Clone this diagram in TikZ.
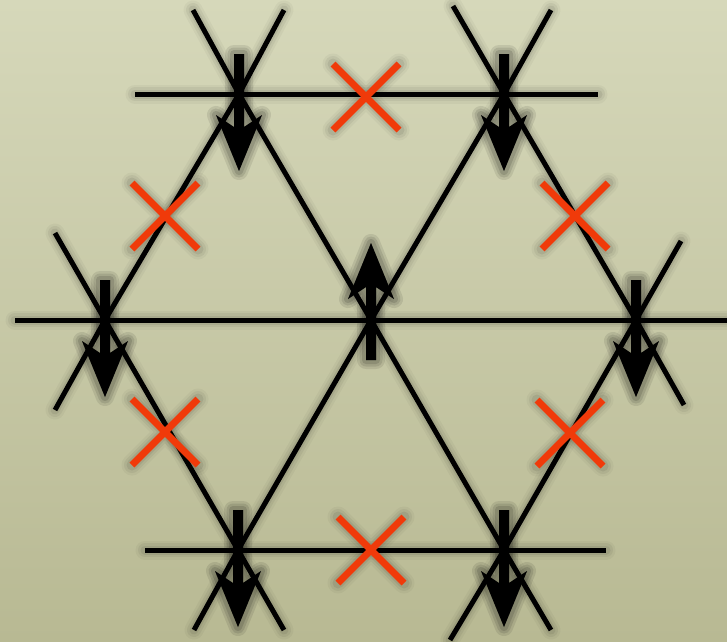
\documentclass[tikz,border=0pt]{standalone}
\usetikzlibrary{calc}
\definecolor{bgtop}{RGB}{214,216,186}
\definecolor{bgbot}{RGB}{184,185,147}
\definecolor{xred}{RGB}{240,58,10}
\tikzset{
  latline/.style={line width=5pt, draw=black},
  xline/.style={line width=7pt, draw=xred},
  spinfill/.style={fill=black},
  spindown/.pic={
    \path[pic actions] (-5,-40) -- (5,-40) -- (5,33) -- (23,21) -- (0,77)
      -- (-23,21) -- (-5,33) -- cycle;
  },
}
\newcommand\latticepaths[3]{%
  \draw[#1] (l1a) -- (TL) -- (C) -- (BR) -- (l1b);
  \draw[#1] (l2a) -- (TL) -- (L) -- (l2b);
  \draw[#1] (l3a) -- (TR) -- (R) -- (l3b);
  \draw[#1] (l4a) -- (TR) -- (C) -- (BL) -- (l4b);
  \draw[#1] (l5a) -- (L) -- (BL) -- (l5b);
  \draw[#1] (l6a) -- (R) -- (BR) -- (l6b);
  \draw[#1] (h1a) -- (TL) -- (TR) -- (h1b);
  \draw[#1] (h2a) -- (L) -- (C) -- (R) -- (h2b);
  \draw[#1] (h3a) -- (BL) -- (BR) -- (h3b);
  \foreach \c in {X1,X2,X3,X4,X5,X6}
    \draw[#2] ($(\c)+(-33,-33)$) -- ($(\c)+(33,33)$)
              ($(\c)+(-33,33)$) -- ($(\c)+(33,-33)$);
  \foreach \v in {TL,TR,L,R,BL,BR} \pic[#3] at (\v) {spindown};
  \pic[#3,rotate=180] at (C) {spindown};
}
\begin{document}
\begin{tikzpicture}[x=1pt,y=-1pt]
  \clip (0,0) rectangle (727,641);
  \shade[top color=bgtop, bottom color=bgbot] (0,0) rectangle (727,641);
  % lattice sites
  \coordinate (TL) at (239,94);
  \coordinate (TR) at (504,94);
  \coordinate (L)  at (105,320);
  \coordinate (C)  at (371,320);
  \coordinate (R)  at (636,320);
  \coordinate (BL) at (238,550);
  \coordinate (BR) at (504,550);
  % line ends
  \coordinate (l1a) at (193,10);  \coordinate (l1b) at (551,630);
  \coordinate (l2a) at (284,10);  \coordinate (l2b) at (55,410);
  \coordinate (l3a) at (453,6);   \coordinate (l3b) at (684,405);
  \coordinate (l4a) at (551,10);  \coordinate (l4b) at (194,630);
  \coordinate (l5a) at (55,233);  \coordinate (l5b) at (284,630);
  \coordinate (l6a) at (681,241); \coordinate (l6b) at (450,640);
  \coordinate (h1a) at (135,94);  \coordinate (h1b) at (598,94);
  \coordinate (h2a) at (15,320);  \coordinate (h2b) at (740,320);
  \coordinate (h3a) at (145,550); \coordinate (h3b) at (606,550);
  % crosses
  \coordinate (X1) at (366,97);
  \coordinate (X2) at (165,216);
  \coordinate (X3) at (575,216);
  \coordinate (X4) at (165,432);
  \coordinate (X5) at (570,433);
  \coordinate (X6) at (371,550);
  % soft shadow
  \begin{scope}[shift={(5,6)}, line cap=round, line join=round]
    \foreach \w/\o in {14/0.035, 9/0.05, 4/0.07} {
      \latticepaths{draw=black, line width=5pt+\w pt, opacity=\o}
                   {draw=black, line width=7pt+\w pt, opacity=\o}
                   {fill=black, draw=black, line width=\w pt+4pt, opacity=\o+0.05}
    }
  \end{scope}
  % main drawing
  \latticepaths{latline}{xline}{spinfill}
\end{tikzpicture}
\end{document}
